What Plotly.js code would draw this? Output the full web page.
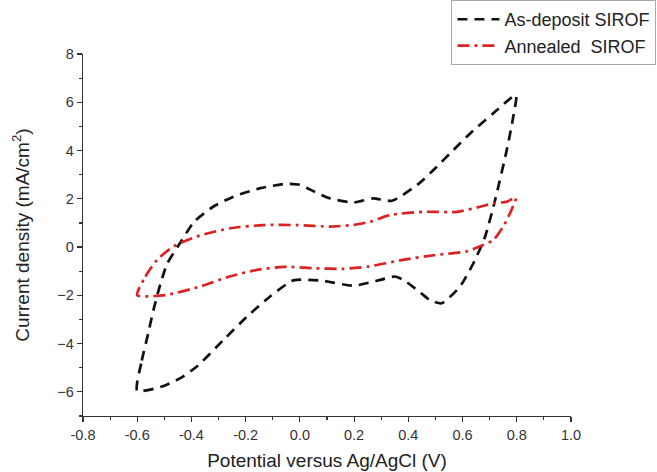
<!DOCTYPE html>
<html>
<head>
<meta charset="utf-8">
<script src="https://cdn.plot.ly/plotly-3.0.1.min.js"></script>
<style>html,body{margin:0;padding:0;background:#fff;}#chart{width:657px;height:472px;}</style>
</head>
<body>
<div id="chart"></div>
<script>
// As-deposit SIROF (closed CV loop)
var asDepositV = [-0.6, -0.583, -0.56, -0.54, -0.515, -0.49, -0.44, -0.39, -0.32, -0.245, -0.146, -0.05, 0.0, 0.04, 0.11, 0.2, 0.27, 0.34, 0.44, 0.505, 0.566, 0.628, 0.713, 0.797,
                  0.787, 0.763, 0.72, 0.683, 0.64, 0.59, 0.523, 0.48, 0.455, 0.382, 0.351, 0.3, 0.197, 0.087, -0.024, -0.11, -0.195, -0.282, -0.38, -0.441, -0.509, -0.6];
var asDepositI = [-5.95, -4.7, -3.6, -2.6, -1.55, -0.7, 0.2, 1.05, 1.67, 2.09, 2.44, 2.62, 2.58, 2.37, 2.02, 1.85, 2.02, 1.92, 2.64, 3.33, 4.02, 4.71, 5.54, 6.3,
                  5.4, 4.02, 1.95, 0.43, -0.67, -1.64, -2.33, -2.2, -1.98, -1.36, -1.22, -1.35, -1.6, -1.4, -1.38, -2.05, -2.88, -3.85, -4.95, -5.43, -5.78, -5.95];
// Annealed SIROF (closed CV loop)
var annealedV = [-0.6, -0.57, -0.527, -0.466, -0.38, -0.257, -0.134, -0.011, 0.111, 0.2, 0.259, 0.333, 0.455, 0.579, 0.664, 0.713, 0.763, 0.797,
                 0.775, 0.75, 0.713, 0.664, 0.615, 0.5, 0.38, 0.25, 0.16, 0.06, -0.06, -0.16, -0.26, -0.37, -0.49, -0.6];
var annealedI = [-2.0, -1.22, -0.53, 0.03, 0.44, 0.78, 0.91, 0.91, 0.85, 0.92, 1.05, 1.33, 1.46, 1.46, 1.67, 1.81, 1.88, 2.05,
                 1.4, 0.85, 0.29, 0.03, -0.18, -0.33, -0.53, -0.81, -0.9, -0.88, -0.82, -0.95, -1.22, -1.64, -1.98, -2.0];
var seriesNames = ['As-deposit SIROF', 'Annealed\u00A0 SIROF'];
var xTickVals = [-0.8, -0.6, -0.4, -0.2, 0.0, 0.2, 0.4, 0.6, 0.8, 1.0];
var xTickText = ['-0.8', '-0.6', '-0.4', '-0.2', '0.0', '0.2', '0.4', '0.6', '0.8', '1.0'];
var yTickVals = [-6, -4, -2, 0, 2, 4, 6, 8];

var traces = [
  {x: asDepositV, y: asDepositI, name: seriesNames[0], mode: 'lines', type: 'scatter',
   line: {color: '#111111', width: 2.7, dash: '10px,7px', shape: 'spline', smoothing: 0.6}},
  {x: annealedV, y: annealedI, name: seriesNames[1], mode: 'lines', type: 'scatter',
   line: {color: '#dd2222', width: 2.7, dash: '12px,5px,3px,5px', shape: 'spline', smoothing: 0.6}}
];

var fontFam = 'Liberation Sans, Arial, sans-serif';
var axisCommon = {
  showgrid: false, zeroline: false, showline: true, linecolor: '#333', linewidth: 1.3,
  ticks: 'outside', ticklen: 5, tickwidth: 1.2, tickcolor: '#333',
  tickfont: {family: fontFam, size: 14.5, color: '#333'}
};

var layout = {
  width: 657, height: 472,
  margin: {l: 83, r: 86, t: 54, b: 56, autoexpand: false},
  paper_bgcolor: '#fff', plot_bgcolor: '#fff',
  showlegend: true,
  legend: {x: 0.755, y: 1.149, xanchor: 'left', yanchor: 'top', bgcolor: '#fff',
           bordercolor: '#aaa', borderwidth: 1, tracegroupgap: 0, itemwidth: 42,
           font: {family: fontFam, size: 18, color: '#222'}},
  xaxis: Object.assign({}, axisCommon, {
    range: [-0.8, 1.0], tickvals: xTickVals, ticktext: xTickText,
    minor: {ticks: 'outside', dtick: 0.1, ticklen: 3, tickcolor: '#333', tickwidth: 1.2},
    title: {text: 'Potential versus Ag/AgCl (V)', standoff: 12,
            font: {family: fontFam, size: 19, color: '#222'}}
  }),
  yaxis: Object.assign({}, axisCommon, {
    range: [-7, 8], tickvals: yTickVals,
    minor: {ticks: 'outside', dtick: 1, ticklen: 3, tickcolor: '#333', tickwidth: 1.2},
    title: {text: 'Current density (mA/cm<sup>2</sup>)', standoff: 22,
            font: {family: fontFam, size: 19, color: '#222'}}
  })
};

Plotly.newPlot('chart', traces, layout, {displayModeBar: false, staticPlot: true});
</script>
</body>
</html>
